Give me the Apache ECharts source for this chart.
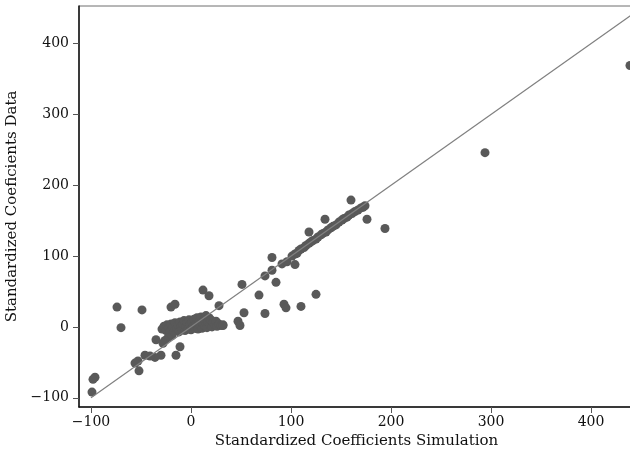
<!DOCTYPE html>
<html>
<head>
<meta charset="utf-8">
<script src="https://cdn.jsdelivr.net/npm/echarts@6/dist/echarts.min.js"></script>
<style>
  html, body { margin: 0; padding: 0; background: #fff; }
  #chart { width: 630px; height: 456px; }
</style>
</head>
<body>
<div id="chart"></div>
<script>
// dense cluster around the origin
const clusterPoints = [
  [-29, -3], [-27, 1], [-25, -5], [-24, 3], [-22, -1], [-21, -7], [-20, 4], [-18, 0],
  [-17, -6], [-16, 6], [-14, -2], [-13, 3], [-12, -7], [-11, 7], [-10, 0], [-9, -4],
  [-8, 4], [-7, 9], [-6, -5], [-5, 1], [-4, 6], [-3, -3], [-2, 10], [-1, 3], [0, -4],
  [1, 7], [2, 0], [3, 11], [4, -2], [5, 4], [6, 13], [7, -3], [8, 8], [9, 2], [10, 14],
  [11, -2], [12, 5], [13, 11], [14, 1], [15, 16], [16, -1], [17, 7], [18, 13], [19, 3],
  [20, 10], [21, 0], [22, 6], [24, 3], [25, 8], [26, 1], [28, 4], [30, 2], [32, 3],
  [-19, -12], [-23, -15], [-26, -19]
];

// points sitting on the 45 degree line
const chainPoints = [
  [74, 72], [81, 80], [91, 89], [96, 92], [101, 100], [104, 103], [106, 104], [108, 108],
  [110, 110], [113, 112], [115, 115], [118, 118], [120, 120], [122, 122], [125, 124],
  [127, 127], [130, 130], [132, 132], [135, 134], [137, 137], [140, 140], [142, 142],
  [145, 144], [148, 148], [151, 151], [153, 153], [156, 155], [158, 158], [161, 160],
  [164, 163], [167, 165], [170, 168], [172, 169], [174, 171]
];

// scattered points
const otherPoints = [
  [-74, 28], [-49, 24], [-70, -1], [-20, 28], [-16, 32], [-35, -18], [-28, -23],
  [-11, -28], [-15, -40], [-30, -40], [-36, -43], [-41, -41], [-46, -40], [-53, -48],
  [-56, -51], [-52, -62], [-96, -71], [-98, -74], [-99, -92],
  [12, 52], [18, 44], [28, 30], [32, 2], [47, 8], [49, 2], [51, 60], [53, 20], [68, 45],
  [74, 19], [81, 98], [85, 63], [93, 32], [95, 27], [104, 88], [110, 29], [118, 134],
  [125, 46], [134, 152], [160, 179], [176, 152], [194, 139], [294, 246], [439, 369]
];

const diagonal = [[-100, -100], [460, 460]];

const xTicks = [-100, 0, 100, 200, 300, 400];
const yTicks = [-100, 0, 100, 200, 300, 400];

const font = 'DejaVu Serif';
const fmt = v => String(v).replace('-', '\u2212');

const chart = echarts.init(document.getElementById('chart'));
chart.setOption({
  animation: false,
  backgroundColor: '#fff',
  grid: {
    left: 79, right: -4, top: 6, bottom: 49,
    outerBoundsMode: 'none',
    show: true, borderColor: '#6e6e6e', borderWidth: 1
  },
  xAxis: {
    type: 'value',
    min: -112,
    max: 443,
    name: 'Standardized Coefficients Simulation',
    nameLocation: 'middle',
    nameGap: 27,
    nameTextStyle: { fontFamily: font, fontSize: 15, color: '#111' },
    axisLine: { show: true, onZero: false, lineStyle: { color: '#111', width: 1.5 } },
    axisTick: { show: true, length: 6, customValues: xTicks, lineStyle: { color: '#555' } },
    axisLabel: { customValues: xTicks, formatter: fmt, fontFamily: font, fontSize: 14, color: '#111', margin: 8 },
    splitLine: { show: false }
  },
  yAxis: {
    type: 'value',
    min: -113,
    max: 453,
    name: 'Standardized Coeficients Data',
    nameLocation: 'middle',
    nameGap: 53,
    nameTextStyle: { fontFamily: font, fontSize: 15, color: '#111' },
    axisLine: { show: true, onZero: false, lineStyle: { color: '#111', width: 1.5 } },
    axisTick: { show: true, length: 6, customValues: yTicks, lineStyle: { color: '#555' } },
    axisLabel: { customValues: yTicks, formatter: fmt, fontFamily: font, fontSize: 14, color: '#111', margin: 10 },
    splitLine: { show: false }
  },
  series: [
    {
      type: 'scatter',
      data: clusterPoints.concat(chainPoints, otherPoints),
      symbolSize: 9,
      clip: false,
      itemStyle: { color: '#595959', opacity: 1 },
      z: 2
    },
    {
      type: 'line',
      data: diagonal,
      symbol: 'none',
      clip: true,
      lineStyle: { color: '#808080', width: 1.2 },
      z: 3
    }
  ]
});
</script>
</body>
</html>
